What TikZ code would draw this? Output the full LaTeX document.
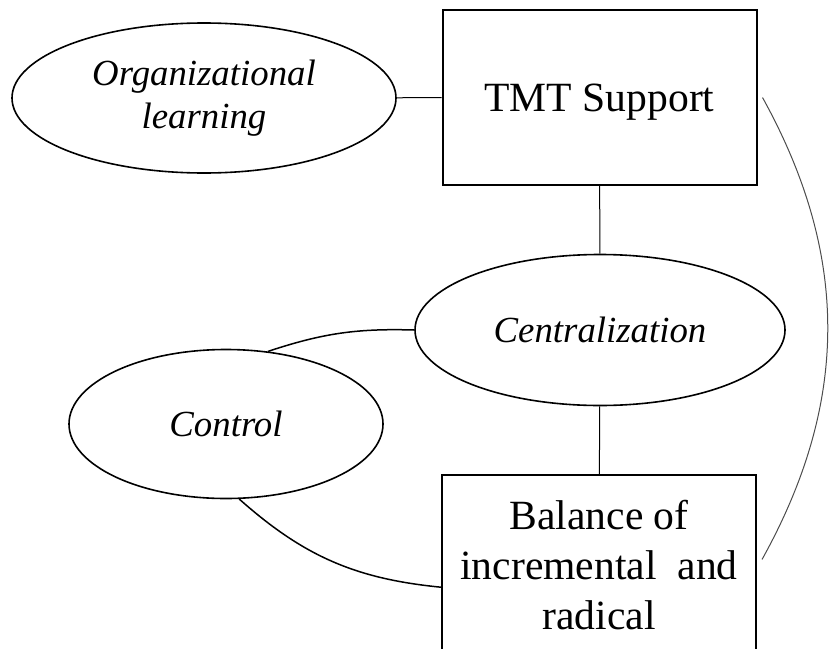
\documentclass[tikz,border=0pt]{standalone}
\usepackage{fontspec}
\setmainfont{Liberation Serif}
\usetikzlibrary{shapes.geometric}

\begin{document}
\begin{tikzpicture}[x=0.5pt,y=-0.5pt,
    concept/.style = {ellipse, draw, line width=0.8pt, inner sep=0pt,
                      font=\fontsize{18.4}{21.5}\selectfont\itshape, align=center},
    factor/.style  = {rectangle, draw, line width=1pt, inner sep=0pt, text depth=0pt,
                      minimum width=157pt, font=\fontsize{20.8}{25}\selectfont, align=center},
    link/.style    = {line width=0.5pt},
    curve/.style   = {line width=0.75pt}]
  \useasboundingbox (0,0) rectangle (834,648);

  \node[concept, minimum width=192pt, minimum height=75pt] (org_l) at (204,98) {Organizational\\learning};
  \node[factor, minimum height=87.5pt] (tmt) at (599.5,97.5) {TMT Support};
  \node[concept, minimum width=185pt, minimum height=75.5pt] (centr) at (600,330) {Centralization};
  \node[concept, minimum width=157pt, minimum height=74.5pt] (ctrl) at (226,424) {Control};
  \node[factor, minimum height=90pt] (bal) at (599,565) {Balance of\\incremental\ \ and\\radical};

  \draw[link] (org_l) -- (tmt);
  \draw[link] (tmt) -- (centr);
  \draw[link] (centr) -- (bal);
  \draw[curve] (ctrl.60) to[bend left=10] (centr.west);
  \draw[curve] (ctrl.-80) to[bend right=18] (bal.188);
  \draw[link, black!70] ([xshift=2.5pt]tmt.east) to[bend left=29] ([xshift=2.5pt]bal.2);
\end{tikzpicture}
\end{document}
